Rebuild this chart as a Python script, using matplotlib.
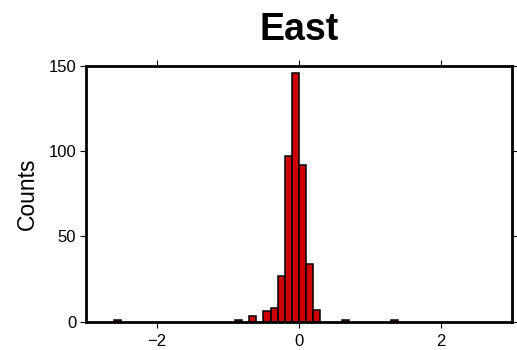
import numpy as np
import matplotlib
matplotlib.use("Agg")
import matplotlib.pyplot as plt

plt.rcParams['font.family'] = ['Liberation Sans', 'DejaVu Sans']

# histogram bins (left edge) with nonzero counts, bin width 0.1
bin_left = [-2.6, -0.9, -0.7, -0.5, -0.4, -0.3, -0.2, -0.1, 0.0, 0.1, 0.2, 0.6, 1.3]
counts = [1, 1, 3, 6, 8, 27, 97, 146, 92, 34, 7, 1, 1]
bin_width = 0.1

fig = plt.figure(figsize=(5.17, 3.5), dpi=100)
ax = fig.add_axes([0.1663, 0.0814, 0.8240, 0.7300])

ax.bar(bin_left, counts, width=bin_width, align='edge',
       color='#cc0000', edgecolor='black', linewidth=1.1)

ax.set_xlim(-3, 3)
ax.set_ylim(0, 150)
ax.set_xticks([-2, 0, 2])
ax.set_yticks([0, 50, 100, 150])

for s in ax.spines.values():
    s.set_linewidth(2)
ax.tick_params(direction='out', length=4, width=0.8, labelsize=12,
               top=True, right=True, pad=3)
ax.tick_params(axis='x', pad=5)

ax.set_ylabel('Counts', fontsize=16.5, labelpad=7)
ax.set_title('East', fontsize=27, fontweight='bold', pad=19)

fig.savefig('out.png', dpi=100)
